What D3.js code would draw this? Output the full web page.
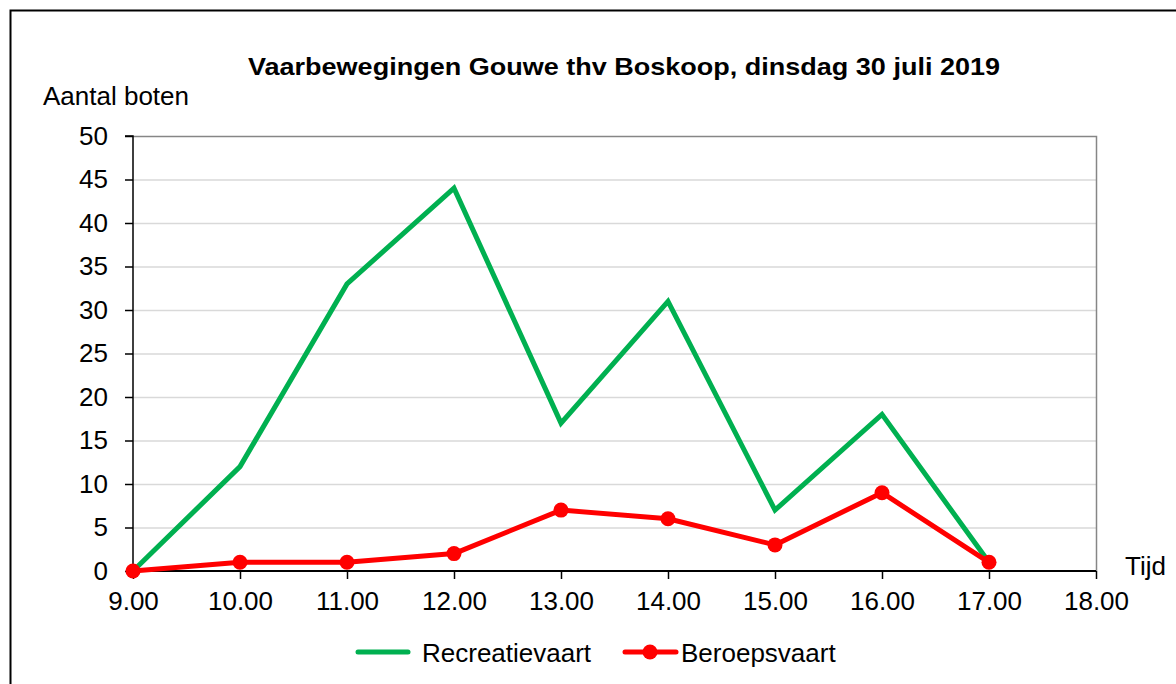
<!DOCTYPE html>
<html><head><meta charset="utf-8">
<script src="https://cdn.jsdelivr.net/npm/d3@7"></script>
<style>body{margin:0;background:#fff}svg{display:block;font-family:"Liberation Sans",Arial,sans-serif}</style>
</head><body>
<script>
const hours = [9,10,11,12,13,14,15,16,17];
const recreatievaart = [0,12,33,44,17,31,7,18,1];
const beroepsvaart = [0,1,1,2,7,6,3,9,1];
const xTicks = [9,10,11,12,13,14,15,16,17,18];
const yTicks = [0,5,10,15,20,25,30,35,40,45,50];
const title = "Vaarbewegingen Gouwe thv Boskoop, dinsdag 30 juli 2019";

const W=1176,H=684, FS=26;
const svg=d3.select("body").append("svg").attr("width",W).attr("height",H);
svg.append("rect").attr("x",10.5).attr("y",10.5).attr("width",1180).attr("height",690).attr("fill","none").attr("stroke","#000").attr("stroke-width",2);

function label(x0,y0,txt,anchor){
  return svg.append("text").attr("x",x0).attr("y",y0)
    .attr("font-size",FS).attr("text-anchor",anchor||"start").attr("fill","#000").text(txt);
}

const L=133,R=1096,T=136,B=571;
const x=d3.scaleLinear().domain([9,18]).range([L,R]);
const y=d3.scaleLinear().domain([0,50]).range([B,T]);

svg.append("g").selectAll("line").data(yTicks.filter(d=>d>0&&d<50)).join("line")
  .attr("x1",L).attr("x2",R).attr("y1",d=>y(d)+0.5).attr("y2",d=>y(d)+0.5)
  .attr("stroke","#d9d9d9").attr("stroke-width",1.5);
svg.append("path").attr("d",`M${L},${T+0.5}H${R+0.5}V${B}`).attr("fill","none").attr("stroke","#868686").attr("stroke-width",1.5);

const yAxis=svg.append("g").attr("transform",`translate(${L},0)`)
  .call(d3.axisLeft(y).tickValues(yTicks).tickSize(8).tickPadding(17).tickFormat(d3.format("d")));
yAxis.select(".domain").attr("stroke","#000").attr("stroke-width",1.5).attr("d",`M-8,${T}H0V${B}`);
yAxis.selectAll(".tick line").attr("stroke","#000").attr("stroke-width",1.5);
yAxis.selectAll("text").attr("font-size",FS).attr("fill","#000").attr("font-family","Liberation Sans, Arial");

const xAxis=svg.append("g").attr("transform",`translate(0,${B})`)
  .call(d3.axisBottom(x).tickValues(xTicks).tickSize(8).tickPadding(13).tickFormat(d=>d.toFixed(2)));
xAxis.select(".domain").attr("stroke","#000").attr("stroke-width",2).attr("d",`M${L},0H${R}`);
xAxis.selectAll(".tick line").attr("stroke","#000").attr("stroke-width",1.5);
xAxis.selectAll("text").attr("font-size",FS).attr("fill","#000").attr("font-family","Liberation Sans, Arial");

const line=d3.line().x((d,i)=>x(hours[i])).y(d=>y(d));
svg.append("path").datum(recreatievaart).attr("d",line).attr("fill","none").attr("stroke","#00b050").attr("stroke-width",5).attr("stroke-linejoin","miter");
svg.append("path").datum(beroepsvaart).attr("d",line).attr("fill","none").attr("stroke","#ff0000").attr("stroke-width",5).attr("stroke-linejoin","round");
svg.append("g").selectAll("circle").data(beroepsvaart).join("circle")
  .attr("cx",(d,i)=>x(hours[i])).attr("cy",d=>y(d)).attr("r",7.5).attr("fill","#ff0000");

svg.append("text").attr("x",624).attr("y",75).attr("text-anchor","middle").attr("font-size",24).attr("font-weight","bold")
  .attr("textLength",752).attr("lengthAdjust","spacingAndGlyphs").text(title);
label(43,105,"Aantal boten");
label(1125,575,"Tijd");

svg.append("line").attr("x1",358).attr("x2",408).attr("y1",652).attr("y2",652).attr("stroke","#00b050").attr("stroke-width",5).attr("stroke-linecap","round");
label(422,662,"Recreatievaart");
svg.append("line").attr("x1",625).attr("x2",676).attr("y1",652).attr("y2",652).attr("stroke","#ff0000").attr("stroke-width",5).attr("stroke-linecap","round");
svg.append("circle").attr("cx",650).attr("cy",652).attr("r",7.5).attr("fill","#ff0000");
label(681,662,"Beroepsvaart");
</script>
</body></html>
